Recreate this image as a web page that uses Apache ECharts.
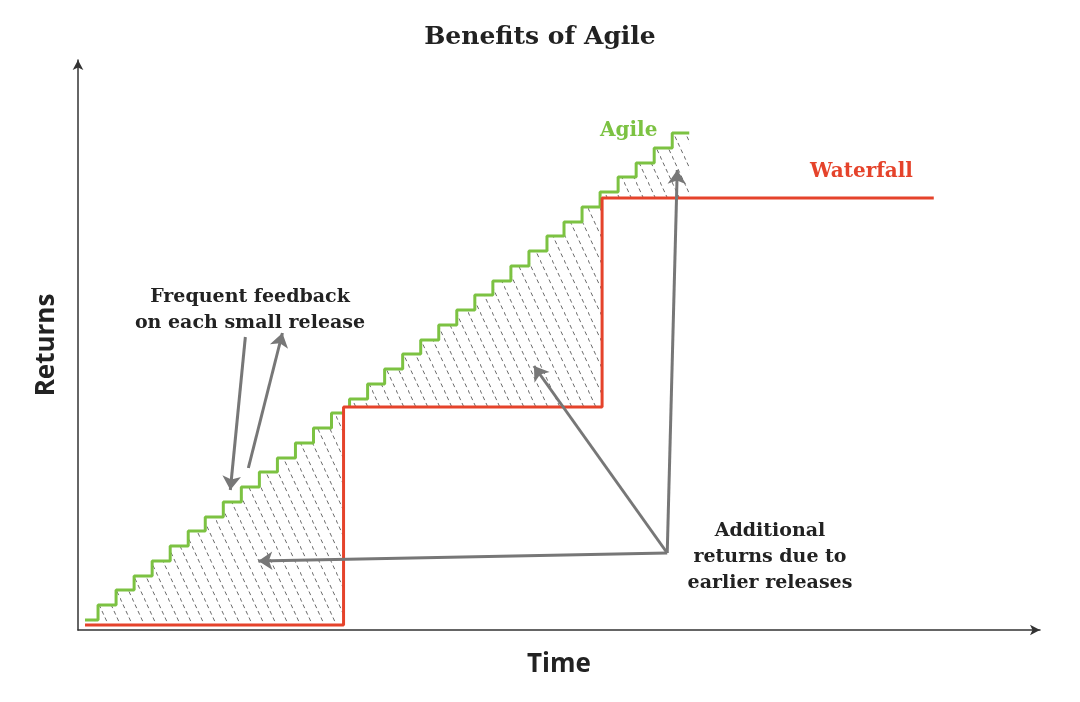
<!DOCTYPE html>
<html>
<head>
<meta charset="utf-8">
<script src="https://cdn.jsdelivr.net/npm/echarts@6/dist/echarts.min.js"></script>
<style>html,body{margin:0;background:#fff}#chart{width:1080px;height:702px}</style>
</head>
<body>
<div id="chart"></div>
<script>
// conceptual units: time 0..96, returns 0..57
const agileX = [0.7, 2.0, 3.8, 5.6, 7.4, 9.2, 11.0, 12.7, 14.5, 16.3, 18.1, 19.9, 21.7, 23.5, 25.3, 27.1, 28.9,
  30.6, 32.4, 34.2, 36.0, 37.8, 39.6, 41.4, 43.2, 45.0, 46.8, 48.5, 50.3, 52.1, 53.9, 55.7, 57.5, 59.3, 61.0];
const agileY = [1.0, 2.5, 4.0, 5.4, 6.9, 8.4, 9.9, 11.3, 12.8, 14.3, 15.8, 17.2, 18.7, 20.2, 21.7, 23.1, 24.6,
  26.1, 27.6, 29.0, 30.5, 32.0, 33.5, 34.9, 36.4, 37.9, 39.4, 40.8, 42.3, 43.8, 45.3, 46.7, 48.2, 49.7, 49.7];
const waterfallX = [0.7, 26.5, 52.3, 85.4];
const waterfallY = [0.5, 22.3, 43.2, 43.2];

const green = '#7cc242', red = '#e5432b', grey = '#777';
const serif = '"DejaVu Serif", serif';

// hatch tile: dashed diagonal line
const tile = document.createElement('canvas');
tile.width = 12; tile.height = 26;
const ctx = tile.getContext('2d');
ctx.fillStyle = '#fff';
ctx.fillRect(0, 0, 12, 26);
ctx.strokeStyle = 'rgba(70,70,70,0.8)';
ctx.lineWidth = 1;
ctx.setLineDash([4, 3.15]);
ctx.beginPath();
ctx.moveTo(0, 0);
ctx.lineTo(12, 26);
ctx.stroke();

const chart = echarts.init(document.getElementById('chart'));
const arrow = (from, to) => [{ coord: from }, { coord: to }];

chart.setOption({
  animation: false,
  title: {
    text: 'Benefits of Agile', left: 'center', top: 20,
    textStyle: { fontFamily: serif, fontSize: 25, fontWeight: 'bold', color: '#222' }
  },
  grid: { left: 78, right: 40, top: 60, bottom: 72 },
  xAxis: {
    type: 'value', min: 0, max: 96, z: 10,
    name: 'Time', nameLocation: 'middle', nameGap: 22,
    nameTextStyle: { fontFamily: '"Open Sans"', fontSize: 26, fontWeight: 'bold', color: '#222' },
    axisLine: { lineStyle: { color: '#333', width: 1.5 }, symbol: ['none', 'arrow'], symbolSize: [8, 10] },
    axisTick: { show: false }, axisLabel: { show: false }, splitLine: { show: false }
  },
  yAxis: {
    type: 'value', min: 0, max: 57, z: 10,
    name: 'Returns', nameLocation: 'middle', nameGap: 18,
    nameTextStyle: { fontFamily: '"Open Sans"', fontSize: 26, fontWeight: 'bold', color: '#222' },
    axisLine: { show: true, lineStyle: { color: '#333', width: 1.5 }, symbol: ['none', 'arrow'], symbolSize: [8, 10] },
    axisTick: { show: false }, axisLabel: { show: false }, splitLine: { show: false }
  },
  series: [
    {
      type: 'line', step: 'end', symbol: 'none', z: 2,
      data: agileX.map((x, i) => [x, agileY[i]]),
      lineStyle: { color: green, width: 3 },
      areaStyle: { color: { image: tile, repeat: 'repeat' }, opacity: 1 },
      markLine: {
        silent: true, symbol: ['none', 'arrow'], symbolSize: 14,
        label: { show: false },
        lineStyle: { color: grey, width: 3, type: 'solid', curveness: -0.3 },
        data: [
          arrow([16.7, 29.3], [15.2, 14.0]),
          arrow([17.0, 16.2], [20.4, 29.7])
        ]
      }
    },
    {
      type: 'line', step: 'end', symbol: 'none', z: 3,
      data: waterfallX.map((x, i) => [x, waterfallY[i]]),
      lineStyle: { color: red, width: 3 },
      areaStyle: { color: '#fff', opacity: 1 },
      markLine: {
        silent: true, symbol: ['none', 'arrow'], symbolSize: 14,
        label: { show: false },
        lineStyle: { color: grey, width: 3, type: 'solid' },
        data: [
          arrow([58.8, 7.7], [18.0, 6.9]),
          arrow([58.8, 7.7], [45.5, 26.4]),
          arrow([58.8, 7.7], [59.8, 46.0])
        ]
      }
    }
  ],
  graphic: [
    { type: 'text', z: 100, x: 600, y: 121, style: { text: 'Agile', fill: green, font: 'bold 20px ' + serif } },
    { type: 'text', z: 100, x: 810, y: 162, style: { text: 'Waterfall', fill: red, font: 'bold 20px ' + serif } },
    { type: 'text', z: 100, x: 250, y: 284, style: { text: 'Frequent feedback\non each small release', fill: '#222',
      font: 'bold 19px ' + serif, align: 'center', lineHeight: 26 } },
    { type: 'text', z: 100, x: 770, y: 518, style: { text: 'Additional\nreturns due to\nearlier releases', fill: '#222',
      font: 'bold 19px ' + serif, align: 'center', lineHeight: 26 } }
  ]
});
</script>
</body>
</html>
